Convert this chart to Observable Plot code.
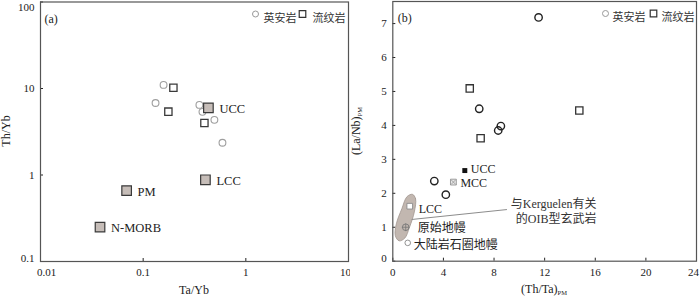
<!DOCTYPE html>
<html><head><meta charset="utf-8">
<script src="https://cdn.jsdelivr.net/npm/d3@7"></script>
<script src="https://cdn.jsdelivr.net/npm/@observablehq/plot@0.6"></script>
<style>
body{margin:0;background:#fff;}
#wrap{display:flex;width:700px;height:297px;}
</style></head><body><div id="wrap"></div>
<script>
// ---------- Panel (a): Th/Yb vs Ta/Yb ----------
const aDaciteTaYb = [0.158, 0.132, 0.353, 0.378, 0.494, 0.592];
const aDaciteThYb = [11.0, 6.8, 6.46, 5.37, 4.34, 2.36];
const aRhyoliteTaYb = [0.197, 0.176, 0.395];
const aRhyoliteThYb = [10.2, 5.4, 4.0];
const aRefNames = ["UCC", "LCC", "PM", "N-MORB"];
const aRefTaYb = [0.432, 0.404, 0.069, 0.038];
const aRefThYb = [5.97, 0.88, 0.66, 0.25];
const aXTicks = [0.01, 0.1, 1, 10];
const aYTicks = [0.1, 1, 10, 100];

// ---------- Panel (b): (La/Nb)PM vs (Th/Ta)PM ----------
const bDaciteThTa = [11.52, 6.83, 8.54, 8.33, 3.28, 4.19];
const bDaciteLaNb = [7.18, 4.49, 3.98, 3.85, 2.36, 1.96];
const bRhyoliteThTa = [6.08, 14.74, 6.94];
const bRhyoliteLaNb = [5.09, 4.44, 3.62];
const bRefNames = ["UCC", "MCC", "LCC", "原始地幔", "大陆岩石圈地幔"];
const bRefThTa = [5.69, 4.79, 1.34, 1.02, 1.18];
const bRefLaNb = [2.67, 2.33, 1.62, 1.0, 0.54];
const oibThTa = [1.55, 1.80, 1.70, 1.32, 0.95, 0.50, 0.20, 0.28, 0.72, 1.12];
const oibLaNb = [1.97, 1.84, 1.45, 1.00, 0.68, 0.60, 0.75, 1.10, 1.55, 1.90];
const oibLeaderThTa = [1.52, 8.99];
const oibLeaderLaNb = [1.23, 1.52];
const oibLabelLines = ["与Kerguelen有关", "的OIB型玄武岩"];
const oibLabelThTa = [16.1, 16.1];
const oibLabelLaNb = [1.69, 1.25];
const bXTicks = [0, 4, 8, 12, 16, 20, 24];
const bYTicks = [0, 1, 2, 3, 4, 5, 6, 7];

const legendLabels = ["英安岩", "流纹岩"];
const panelLabels = ["(a)", "(b)"];

// ---------- styles ----------
const FONT = '"Liberation Serif","Noto Sans CJK SC",serif';
const zip = (xs, ys, extra) => xs.map((x, i) => ({x, y: ys[i], ...(extra ? {name: extra[i]} : {})}));
const aLabelStyle = {dx: 11, dy: 1};
const bLabelOffsets = {"UCC": [6, -1], "MCC": [7, 1], "LCC": [9, 3], "原始地幔": [12, 1], "大陆岩石圈地幔": [6, 2]};

function legend(dxC, dxT1, dxS, dxT2, circleStroke, squareStroke) {
  return [
    Plot.dot([0], {frameAnchor: "top-right", dx: dxC, dy: 12, r: 3, stroke: circleStroke, strokeWidth: 1}),
    Plot.text([legendLabels[0]], {frameAnchor: "top-right", dx: dxT1, dy: 12, text: d => d, textAnchor: "start", fontSize: 11, fill: "#333"}),
    Plot.dot([0], {frameAnchor: "top-right", dx: dxS, dy: 12, r: 3.7, symbol: "square", stroke: squareStroke, strokeWidth: 1.2}),
    Plot.text([legendLabels[1]], {frameAnchor: "top-right", dx: dxT2, dy: 12, text: d => d, textAnchor: "start", fontSize: 11, fill: "#333"})
  ];
}

const fmt = d => String(d);
const ax = {label: null};

const plotA = Plot.plot({
  width: 350, height: 297,
  marginLeft: 40, marginRight: 2, marginTop: 1.5, marginBottom: 36,
  x: {type: "log", domain: [0.01, 10], label: null},
  y: {type: "log", domain: [0.1, 100], label: null},
  style: {fontFamily: FONT, fontSize: "11px", color: "#222", background: "white", overflow: "visible"},
  marks: [
    Plot.axisX({...ax, ticks: aXTicks, tickSize: -3, tickFormat: () => ""}),
    Plot.axisX({...ax, ticks: aXTicks.slice(1, 3), tickSize: 0, tickPadding: 7, tickFormat: fmt}),
    Plot.axisX({...ax, ticks: aXTicks.slice(0, 1), tickSize: 0, tickPadding: 7, dx: 6, tickFormat: fmt}),
    Plot.axisX({...ax, ticks: aXTicks.slice(3), tickSize: 0, tickPadding: 7, dx: -3, tickFormat: fmt}),
    Plot.axisY({...ax, ticks: aYTicks, tickSize: -3, tickFormat: () => ""}),
    Plot.axisY({...ax, ticks: aYTicks.slice(1, 3), tickSize: 0, tickPadding: 6, tickFormat: fmt}),
    Plot.axisY({...ax, ticks: aYTicks.slice(3), tickSize: 0, tickPadding: 6, dy: 5, tickFormat: fmt}),
    Plot.axisY({...ax, ticks: aYTicks.slice(0, 1), tickSize: 0, tickPadding: 6, dy: -3, tickFormat: fmt}),
    Plot.frame({stroke: "#555", strokeWidth: 1.2}),
    Plot.dot(zip(aDaciteTaYb, aDaciteThYb), {x: "x", y: "y", r: 3.4, stroke: "#9e9e9e", strokeWidth: 1.1, fill: "none"}),
    Plot.dot(zip(aRhyoliteTaYb, aRhyoliteThYb), {x: "x", y: "y", r: 4.1, symbol: "square", stroke: "#3a3a3a", strokeWidth: 1.3, fill: "white"}),
    Plot.dot(zip(aRefTaYb, aRefThYb, aRefNames), {x: "x", y: "y", r: 5.4, symbol: "square", stroke: "#3a3a3a", strokeWidth: 1.2, fill: "#c6bdb8"}),
    Plot.text(zip(aRefTaYb, aRefThYb, aRefNames), {x: "x", y: "y", text: "name", textAnchor: "start", fontSize: 12.5, fill: "#222", ...aLabelStyle}),
    ...legend(-93, -85, -46, -36, "#999", "#333"),
    Plot.text([panelLabels[0]], {frameAnchor: "top-left", dx: 4, dy: 12, text: d => d, textAnchor: "start", fontSize: 12, fill: "#222"})
  ]
});

const plotB = Plot.plot({
  width: 350, height: 297,
  marginLeft: 42.3, marginRight: 4, marginTop: 1, marginBottom: 36.3,
  x: {domain: [0, 24], label: null},
  y: {domain: [0, 7.65], label: null},
  style: {fontFamily: FONT, fontSize: "11px", color: "#222", background: "white", overflow: "visible"},
  marks: [
    Plot.axisX({...ax, ticks: bXTicks, tickSize: -3, tickFormat: () => ""}),
    Plot.axisX({...ax, ticks: bXTicks.slice(0, 6), tickSize: 0, tickPadding: 7, tickFormat: fmt}),
    Plot.axisX({...ax, ticks: bXTicks.slice(6), tickSize: 0, tickPadding: 7, dx: -3, tickFormat: fmt}),
    Plot.axisY({...ax, ticks: bYTicks, tickSize: -3, tickFormat: () => ""}),
    Plot.axisY({...ax, ticks: bYTicks.slice(1), tickSize: 0, tickPadding: 6, tickFormat: fmt}),
    Plot.axisY({...ax, ticks: bYTicks.slice(0, 1), tickSize: 0, tickPadding: 6, dy: -3, tickFormat: fmt}),
    Plot.frame({stroke: "#555", strokeWidth: 1.2}),
    Plot.line(zip(oibThTa, oibLaNb), {x: "x", y: "y", curve: "catmull-rom-closed", fill: "#c2b7b0", stroke: "#a1968f", strokeWidth: 0.8}),
    Plot.line(zip(oibLeaderThTa, oibLeaderLaNb), {x: "x", y: "y", stroke: "#8c8c8c", strokeWidth: 1}),
    Plot.text(zip(oibLabelThTa, oibLabelLaNb, oibLabelLines), {x: "x", y: "y", text: "name", textAnchor: "end", fontSize: 12, fill: "#333"}),
    Plot.dot(zip(bDaciteThTa, bDaciteLaNb), {x: "x", y: "y", r: 3.7, stroke: "#222", strokeWidth: 1.4, fill: "none"}),
    Plot.dot(zip(bRhyoliteThTa, bRhyoliteLaNb), {x: "x", y: "y", r: 4.1, symbol: "square", stroke: "#333", strokeWidth: 1.3, fill: "white"}),
    // reference markers
    Plot.dot(zip(bRefThTa, bRefLaNb, bRefNames).filter(d => d.name === "UCC"), {x: "x", y: "y", r: 2.8, symbol: "square", fill: "#111"}),
    Plot.dot(zip(bRefThTa, bRefLaNb, bRefNames).filter(d => d.name === "MCC"), {x: "x", y: "y", r: 3.3, symbol: "square", fill: "#e6e6e6", stroke: "#8a8a8a", strokeWidth: 0.8}),
    Plot.dot(zip(bRefThTa, bRefLaNb, bRefNames).filter(d => d.name === "MCC"), {x: "x", y: "y", r: 2.2, symbol: "times", stroke: "#8a8a8a", strokeWidth: 0.7}),
    Plot.dot(zip(bRefThTa, bRefLaNb, bRefNames).filter(d => d.name === "LCC"), {x: "x", y: "y", r: 3.2, symbol: "square", fill: "white", stroke: "#8a8a8a", strokeWidth: 0.9}),
    Plot.dot(zip(bRefThTa, bRefLaNb, bRefNames).filter(d => d.name === "原始地幔"), {x: "x", y: "y", r: 3.3, fill: "none", stroke: "#777", strokeWidth: 0.9}),
    Plot.dot(zip(bRefThTa, bRefLaNb, bRefNames).filter(d => d.name === "原始地幔"), {x: "x", y: "y", r: 2.6, symbol: "plus", stroke: "#777", strokeWidth: 0.8}),
    Plot.dot(zip(bRefThTa, bRefLaNb, bRefNames).filter(d => d.name === "大陆岩石圈地幔"), {x: "x", y: "y", r: 2.8, fill: "white", stroke: "#888", strokeWidth: 0.9}),
    ...bRefNames.map(n => Plot.text(zip(bRefThTa, bRefLaNb, bRefNames).filter(d => d.name === n), {x: "x", y: "y", text: "name", textAnchor: "start", fontSize: 12, fill: "#222", dx: bLabelOffsets[n][0], dy: bLabelOffsets[n][1]})),
    ...legend(-91, -84, -43, -35, "#999", "#333"),
    Plot.text([panelLabels[1]], {frameAnchor: "top-left", dx: 5, dy: 11.5, text: d => d, textAnchor: "start", fontSize: 12, fill: "#222"})
  ]
});

// axis titles (with subscripts) added as real SVG text
function addTitle(svg, x, y, main, sub, rotate) {
  const t = d3.select(svg).append("text")
    .attr("transform", `translate(${x},${y})` + (rotate ? " rotate(-90)" : ""))
    .attr("text-anchor", "middle")
    .attr("font-family", FONT)
    .attr("font-size", 12)
    .attr("fill", "#222");
  t.append("tspan").text(main);
  if (sub) t.append("tspan").attr("font-size", 6.5).attr("dy", 2).text(sub);
}
addTitle(plotA, 194, 293.5, "Ta/Yb", null, false);
addTitle(plotA, 10, 131, "Th/Yb", null, true);
addTitle(plotB, 194, 293, "(Th/Ta)", "PM", false);
addTitle(plotB, 10, 131, "(La/Nb)", "PM", true);

document.getElementById("wrap").append(plotA, plotB);
</script>
</body></html>
